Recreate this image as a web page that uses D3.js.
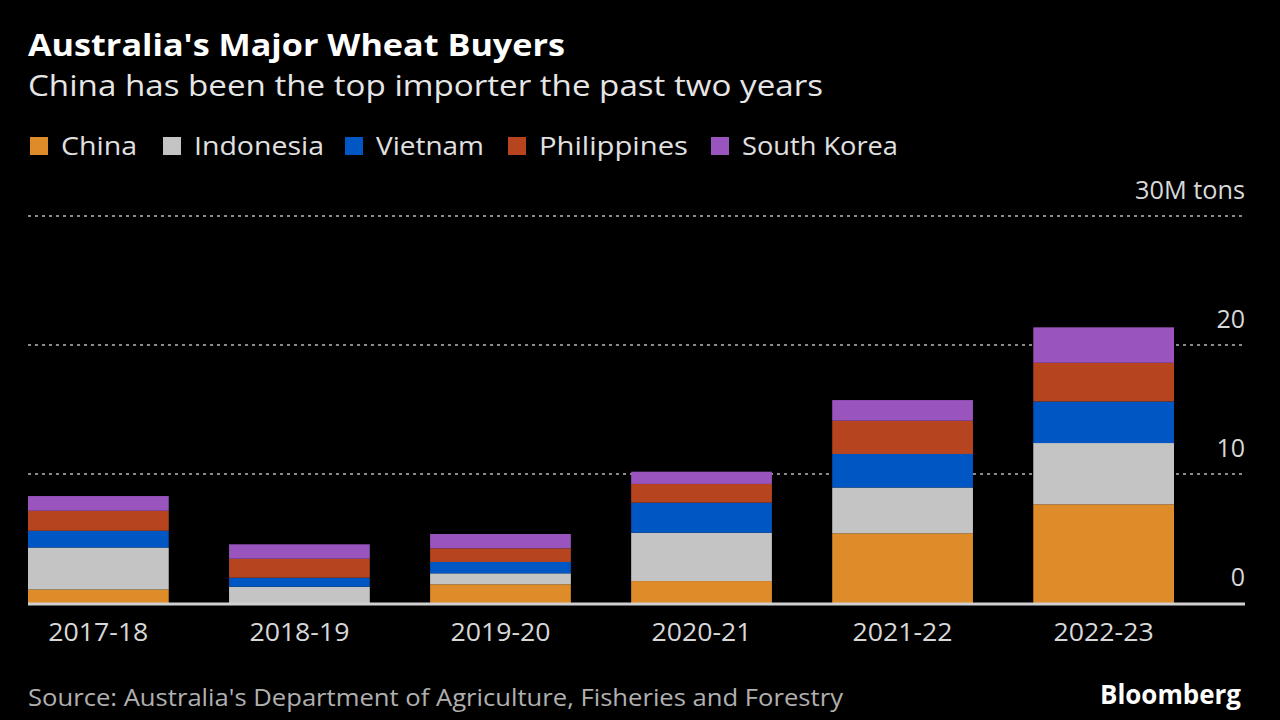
<!DOCTYPE html>
<html><head><meta charset="utf-8">
<script src="https://cdn.jsdelivr.net/npm/d3@7"></script>
<style>html,body{margin:0;padding:0;background:#000;}svg{display:block;}</style>
</head><body>
<svg id="c" width="1280" height="720"></svg>
<script>
const years = ["2017-18","2018-19","2019-20","2020-21","2021-22","2022-23"];
const seriesNames = ["China","Indonesia","Vietnam","Philippines","South Korea"];
const china       = [1.05, 0.0, 1.45, 1.7, 5.4, 7.65];
const indonesia   = [3.25, 1.26, 0.85, 3.75, 3.55, 4.75];
const vietnam     = [1.3, 0.7, 0.88, 2.33, 2.6, 3.22];
const philippines = [1.55, 1.47, 1.06, 1.45, 2.58, 3.0];
const southKorea  = [1.14, 1.12, 1.11, 0.95, 1.6, 2.75];
const yTicks = [0, 10, 20, 30];
const colors = ["#de8c2a", "#c4c4c4", "#0056c2", "#b5441f", "#9954be"];

const font = "'Open Sans', 'Noto Sans', sans-serif";
const svg = d3.select("#c");
svg.append("rect").attr("width",1280).attr("height",720).attr("fill","#000");

const rows = years.map((y,i)=>({year:y, "China":china[i], "Indonesia":indonesia[i], "Vietnam":vietnam[i], "Philippines":philippines[i], "South Korea":southKorea[i]}));
const stacked = d3.stack().keys(seriesNames)(rows);

const x = d3.scaleBand().domain(years).range([28,1174]).paddingInner(0.3).paddingOuter(0);
const y = d3.scaleLinear().domain([0,30]).range([603,216]);
const color = d3.scaleOrdinal().domain(seriesNames).range(colors);

// title
svg.append("text").attr("x",28).attr("y",56).attr("fill","#fff")
  .attr("font-family",font).attr("font-weight",700).attr("font-size",31)
  .attr("textLength",537).attr("lengthAdjust","spacingAndGlyphs")
  .text("Australia's Major Wheat Buyers");
svg.append("text").attr("x",28).attr("y",96).attr("fill","#e6e6e6")
  .attr("font-family",font).attr("font-size",30)
  .attr("textLength",795).attr("lengthAdjust","spacingAndGlyphs")
  .text("China has been the top importer the past two years");

// legend
const legendX = [30,163,345,508,711];
const legendW = [76,130,108,149,156];
const lg = svg.append("g");
seriesNames.forEach((s,i)=>{
  lg.append("rect").attr("x",legendX[i]).attr("y",137).attr("width",18).attr("height",18).attr("fill",colors[i]);
  lg.append("text").attr("x",legendX[i]+31).attr("y",155).attr("fill","#e0e0e0")
    .attr("font-family",font).attr("font-size",26)
    .attr("textLength",legendW[i]).attr("lengthAdjust","spacingAndGlyphs").text(s);
});

// gridlines
const grid = svg.append("g");
yTicks.filter(t=>t>0).forEach(t=>{
  grid.append("line").attr("x1",28).attr("x2",1245).attr("y1",y(t)).attr("y2",y(t))
    .attr("stroke","#8a8a8a").attr("stroke-width",2).attr("stroke-dasharray","3,4");
});

// bars
svg.append("g").selectAll("g").data(stacked).join("g").attr("fill",d=>color(d.key))
  .selectAll("rect").data(d=>d).join("rect")
  .attr("x",d=>x(d.data.year)).attr("width",x.bandwidth())
  .attr("y",d=>y(d[1])).attr("height",d=>Math.max(0,y(d[0])-y(d[1])));

// baseline
svg.append("line").attr("x1",28).attr("x2",1245).attr("y1",y(0)+1).attr("y2",y(0)+1)
  .attr("stroke","#d0d0d0").attr("stroke-width",3);

// y tick labels
yTicks.forEach(t=>{
  const tx = svg.append("text").attr("x",1245).attr("y",y(t)-17).attr("text-anchor","end")
    .attr("fill","#d8d8d8").attr("font-family",font).attr("font-size",25)
    .text(t===30 ? "30M tons" : t);
  if (t===30) tx.attr("textLength",110).attr("lengthAdjust","spacingAndGlyphs");
});

// x labels
years.forEach(yr=>{
  svg.append("text").attr("x",x(yr)+x.bandwidth()/2 - 50).attr("y",641)
    .attr("fill","#d8d8d8").attr("font-family",font).attr("font-size",25)
    .attr("textLength",100).attr("lengthAdjust","spacingAndGlyphs")
    .text(yr);
});

// source
svg.append("text").attr("x",28).attr("y",706).attr("fill","#b0b0b0")
  .attr("font-family",font).attr("font-size",24)
  .attr("textLength",815).attr("lengthAdjust","spacingAndGlyphs")
  .text("Source: Australia's Department of Agriculture, Fisheries and Forestry");
svg.append("text").attr("x",1100).attr("y",704).attr("fill","#fff")
  .attr("font-family",font).attr("font-weight",700).attr("font-size",26)
  .attr("textLength",141).attr("lengthAdjust","spacingAndGlyphs")
  .text("Bloomberg");
</script>
</body></html>
